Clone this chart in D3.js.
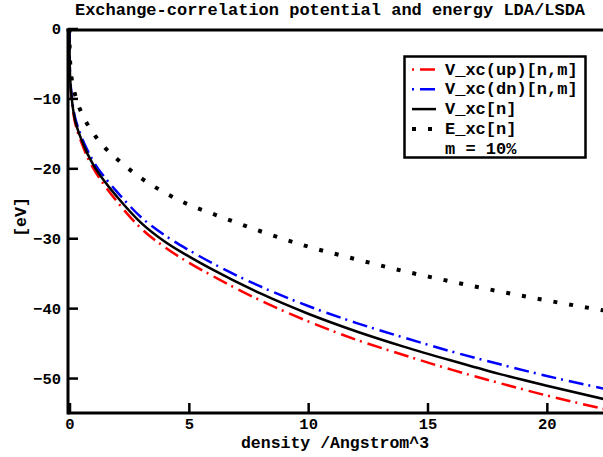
<!DOCTYPE html>
<html>
<head>
<meta charset="utf-8">
<script src="https://cdn.jsdelivr.net/npm/d3@7"></script>
<style>
  body { margin: 0; background: #fff; }
  text { font-weight: bold; }
</style>
</head>
<body>
<svg id="chart" width="603" height="457"></svg>
<script>
// density in 1/Angstrom^3, values in eV
const DENSITY = [0, 0.005, 0.02, 0.05, 0.1, 0.2, 0.35, 0.5, 0.75, 1, 1.5, 2, 3, 4, 5, 6, 8, 10, 12, 14, 16, 18, 20, 22.5]
const VXC_UP = [0, -4.3, -6.6, -8.5, -10.5, -12.9, -14.9, -16.3, -18.4, -20.0, -22.6, -24.8, -28.6, -31.3, -33.5, -35.4, -38.9, -41.9, -44.5, -46.7, -48.8, -50.7, -52.5, -54.5]
const VXC_DN = [0, -4.1, -6.2, -8.1, -9.9, -12.2, -14.1, -15.5, -17.4, -19.0, -21.4, -23.4, -27.0, -29.6, -31.7, -33.6, -36.9, -39.7, -42.1, -44.2, -46.2, -48.0, -49.7, -51.6]
const VXC = [0, -4.2, -6.4, -8.3, -10.2, -12.6, -14.5, -15.9, -17.9, -19.5, -22.0, -24.1, -27.8, -30.5, -32.6, -34.5, -37.9, -40.8, -43.3, -45.5, -47.5, -49.4, -51.1, -53.1]
const EXC = [0, -2.8, -4.3, -5.9, -7.4, -9.0, -10.8, -12.0, -13.7, -15.0, -17.1, -18.7, -21.4, -23.5, -25.2, -26.5, -29.0, -31.2, -33.0, -34.7, -36.2, -37.6, -38.9, -40.4]

const X_TICKS = [0, 5, 10, 15, 20]
const Y_TICKS = [0, -10, -20, -30, -40, -50]
const LEGEND = ['V_xc(up)[n,m]', 'V_xc(dn)[n,m]', 'V_xc[n]', 'E_xc[n]', 'm = 10%']

const mono = '"Courier New", "Liberation Mono", monospace'
const dashDot = '15 5 2 6'
const dotted = '4 12'

const svg = d3.select('#chart')
const x = d3.scaleLinear().domain([0, 22.5]).range([69.5, 606.5])
const y = d3.scaleLinear().domain([-55, 0]).range([413, 28.5])

svg.append('defs').append('clipPath').attr('id', 'plot')
  .append('rect').attr('x', 68).attr('y', 28).attr('width', 540).attr('height', 386)

const series = [
  { vals: VXC_UP, color: '#ff0000', dash: dashDot, width: 2.5 },
  { vals: VXC_DN, color: '#0000ff', dash: dashDot, width: 2.5 },
  { vals: VXC, color: '#000', dash: null, width: 2.5 },
  { vals: EXC, color: '#000', dash: dotted, width: 4 }
]

const line = d3.line().x(d => x(d[0])).y(d => y(d[1])).curve(d3.curveMonotoneX)

const curves = svg.append('g').attr('clip-path', 'url(#plot)')
series.forEach(s => {
  curves.append('path')
    .attr('d', line(DENSITY.map((n, i) => [n, s.vals[i]])))
    .attr('fill', 'none')
    .attr('stroke', s.color)
    .attr('stroke-width', s.width)
    .attr('stroke-dasharray', s.dash)
})

// axes: ticks point inward
const xAxis = svg.append('g').attr('transform', `translate(0,${y(-55)})`)
  .call(d3.axisBottom(x).tickValues(X_TICKS).tickSize(-10).tickPadding(5))
const yAxis = svg.append('g').attr('transform', `translate(${x(0) - 1.5},0)`)
  .call(d3.axisLeft(y).tickValues(Y_TICKS).tickSize(-10).tickPadding(7)
    .tickFormat(d => d < 0 ? '\u2212' + Math.abs(d) : d))

;[xAxis, yAxis].forEach(a => {
  a.select('.domain').remove()
  a.selectAll('.tick line').attr('stroke-width', 2.5)
  a.selectAll('.tick text').attr('font-family', '"Liberation Mono", monospace')
    .attr('font-size', 15.5).attr('font-weight', 'bold').attr('fill', '#000')
})

// frame lines
svg.append('line').attr('x1', 68).attr('x2', 603).attr('y1', 413).attr('y2', 413)
  .attr('stroke', '#000').attr('stroke-width', 3)
svg.append('line').attr('x1', 68).attr('x2', 68).attr('y1', 28.5).attr('y2', 414.5)
  .attr('stroke', '#000').attr('stroke-width', 3)
svg.append('line').attr('x1', 66.5).attr('x2', 603).attr('y1', 30).attr('y2', 30)
  .attr('stroke', '#000').attr('stroke-width', 3)

// titles
svg.append('text').attr('x', 330).attr('y', 15).attr('text-anchor', 'middle')
  .attr('font-family', mono).attr('font-size', 17).text('Exchange-correlation potential and energy LDA/LSDA')
svg.append('text').attr('x', 335).attr('y', 448).attr('text-anchor', 'middle')
  .attr('font-family', mono).attr('font-size', 16.5).text('density /Angstrom^3')
svg.append('text').attr('transform', 'translate(26,217) rotate(-90)').attr('text-anchor', 'middle')
  .attr('font-family', mono).attr('font-size', 16.5).text('[eV]')

// legend
const lg = svg.append('g')
lg.append('rect').attr('x', 404.5).attr('y', 56.5).attr('width', 181).attr('height', 101)
  .attr('fill', '#fff').attr('stroke', '#000').attr('stroke-width', 2.5)
LEGEND.forEach((label, i) => {
  const ly = 69.5 + i * 19.8
  const s = series[i]
  if (s) {
    lg.append('line').attr('x1', 412).attr('x2', 436).attr('y1', ly).attr('y2', ly)
      .attr('stroke', s.color).attr('stroke-width', s.width === 4 ? 4 : 2.5)
      .attr('stroke-dasharray', s.dash)
      .attr('stroke-dashoffset', s.dash === dashDot ? 20 : 0)
  }
  lg.append('text').attr('x', 445).attr('y', ly + 5).attr('font-family', mono)
    .attr('font-size', 17).text(label)
})
</script>
</body>
</html>
